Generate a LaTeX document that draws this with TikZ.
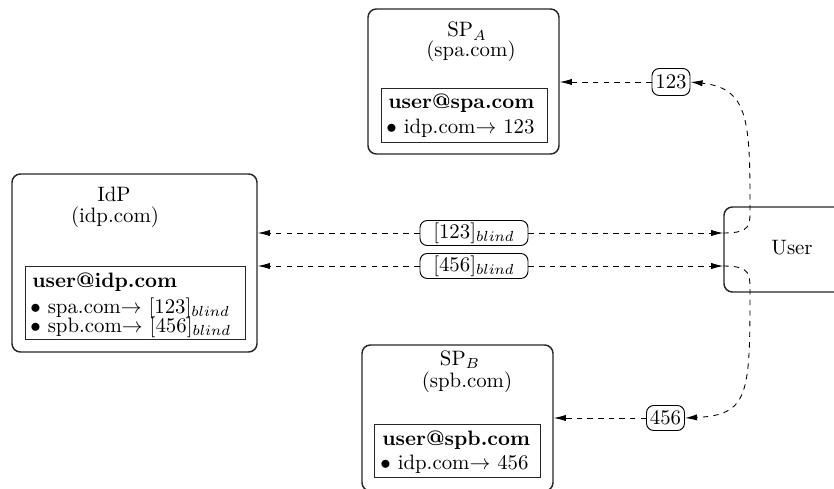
\documentclass[tikz,border=0pt]{standalone}
\usetikzlibrary{arrows.meta}
\newdimen\pxu
\pxu=0.48pt
\tikzset{
  party/.style={draw=black!85, line width=0.7pt, rounded corners=4pt, inner sep=0pt},
  account/.style={draw=black!85, line width=0.4pt, inner sep=0pt},
  txt/.style={inner sep=0pt},
  tag/.style={draw, line width=0.45pt, rounded corners=3.5pt, fill=white, inner sep=1pt},
  flow/.style={line width=0.42pt, dash pattern=on 2.6pt off 2.5pt,
               -{Latex[length=5.8pt,width=3pt]}},
}
\begin{document}
\begin{tikzpicture}[x=0.48pt, y=-0.48pt]
\clip (0,0) rectangle (834,489);

% Service provider A
\node[party, minimum width=191\pxu, minimum height=145\pxu] (spa) at (463.5,81.5) {};
\node[account, minimum width=166\pxu, minimum height=54\pxu] (spaacc) at (464,115) {};
\node[txt, anchor=base] (spaname) at (467,37) {SP$_A$};
\node[txt, anchor=base] (spadom) at (471,57) {(spa.com)};
\node[txt, anchor=base west] (spauser) at (388,108) {\textbf{user@spa.com}};
\node[txt, anchor=base west] (spamap) at (386,133) {$\bullet$ idp.com$\rightarrow$ 123};

% Identity provider
\node[party, minimum width=245\pxu, minimum height=178\pxu] (idp) at (134.5,263) {};
\node[account, minimum width=220\pxu, minimum height=73\pxu] (idpacc) at (135,302.5) {};
\node[txt, anchor=base] (idpname) at (114,201) {IdP};
\node[txt, anchor=base] (idpdom) at (115,222) {(idp.com)};
\node[txt, anchor=base west] (idpuser) at (32,287) {\textbf{user@idp.com}};
\node[txt, anchor=base west] (idpmapa) at (30,313) {$\bullet$ spa.com$\rightarrow$ \smash{$[123]_{blind}$}};
\node[txt, anchor=base west] (idpmapb) at (30,332.5) {$\bullet$ spb.com$\rightarrow$ \smash{$[456]_{blind}$}};

% Service provider B
\node[party, minimum width=191\pxu, minimum height=146\pxu] (spb) at (457.5,418) {};
\node[account, minimum width=166\pxu, minimum height=53\pxu] (spbacc) at (457,450.5) {};
\node[txt, anchor=base] (spbname) at (460,365) {SP$_B$};
\node[txt, anchor=base] (spbdom) at (467,387) {(spb.com)};
\node[txt, anchor=base west] (spbuser) at (382,445) {\textbf{user@spb.com}};
\node[txt, anchor=base west] (spbmap) at (380,469) {$\bullet$ idp.com$\rightarrow$ 456};

% User
\node[party, minimum width=136\pxu, minimum height=85\pxu] (user) at (792,249.5) {};
\node[txt] (username) at (792,248) {User};

% Identifiers on the wire
\node[tag, minimum width=108\pxu, minimum height=24\pxu] (b123) at (474,233) {$[123]_{blind}$};
\node[tag, minimum width=108\pxu, minimum height=24\pxu] (b456) at (474,266) {$[456]_{blind}$};
\node[tag, minimum width=38\pxu, minimum height=27\pxu] (l123) at (671,82) {123};
\node[tag, minimum width=38\pxu, minimum height=25\pxu] (l456) at (665.5,418) {456};

\coordinate (ua) at (user.west |- b123);
\coordinate (ub) at (user.west |- b456);

% IdP <-> User
\draw[flow] (b123.west) -- (b123.west -| idp.east);
\draw[flow] (b123.east) -- (ua);
\draw[flow] (b456.west) -- (b456.west -| idp.east);
\draw[flow] (b456.east) -- (ub);

% User -> SP_A
\draw[flow] (ua) .. controls (752,233) and (750,225) .. (750,205)
                 .. controls (750,120) and (748,88) .. (l123.east);
\draw[flow] (l123.west) -- (l123.west -| spa.east);

% User -> SP_B
\draw[flow] (ub) .. controls (752,266) and (750,275) .. (750,295)
                 .. controls (750,395) and (748,415) .. (l456.east);
\draw[flow] (l456.west) -- (l456.west -| spb.east);
\end{tikzpicture}
\end{document}
